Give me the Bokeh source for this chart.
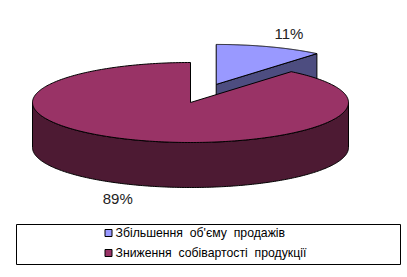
import numpy as np
from bokeh.plotting import figure
from bokeh.models import Range1d, ColumnDataSource
from bokeh.embed import file_html
from bokeh.resources import INLINE
from bokeh.core.properties import value

# ---- data ----
categories = ["Збільшення\u00a0 об'єму\u00a0 продажів", "Зниження\u00a0 собівартості\u00a0 продукції"]
values = [11, 89]
top_colors = ["#9999FF", "#993366"]
side_colors = ["#4D4D80", "#4D1A33"]

# ---- geometry / style ----
W, H = 407, 277
cx, cy = 190.0, 102.0
a, b = 158.0, 40.0
depth = 45.0
explode = [0.48, 0.0]
label_k = 1.36
FONT = value("Liberation Sans")

p = figure(width=W, height=H, x_range=Range1d(0, W), y_range=Range1d(H, 0),
           output_backend="svg", toolbar_location=None, min_border=0,
           x_axis_location=None, y_axis_location=None)
p.grid.visible = False
p.outline_line_color = None
p.background_fill_color = "white"
p.border_fill_color = "white"


def rim(ox, oy, th):
    t = np.radians(th)
    return ox + a * np.cos(t), oy - b * np.sin(t)


total = float(sum(values))
slices = []
start = 90.0
for i, v in enumerate(values):
    sweep = 360.0 * v / total
    th0, th1 = start - sweep, start
    start = th0
    mid = (th0 + th1) / 2.0
    m = np.radians(mid)
    ox = cx + explode[i] * a * np.cos(m)
    oy = cy - explode[i] * b * np.sin(m)
    slices.append(dict(i=i, th0=th0, th1=th1, mid=mid, ox=ox, oy=oy))

# back to front
order = sorted(slices, key=lambda s: -np.sin(np.radians(s["mid"])))

pxs, pys, pcol = [], [], []
for s in order:
    i, th0, th1, ox, oy = s["i"], s["th0"], s["th1"], s["ox"], s["oy"]
    # cut faces
    for phi, sign in ((th0, 1), (th1, -1)):
        c = np.cos(np.radians(phi))
        if sign * c > 1e-6:
            rx, ry = rim(ox, oy, phi)
            pxs.append([ox, float(rx), float(rx), ox])
            pys.append([oy, float(ry), float(ry) + depth, oy + depth])
            pcol.append(side_colors[i])
    # outer wall (front half)
    for k in (-1, 0, 1):
        lo = max(th0, -180 + 360 * k)
        hi = min(th1, 360 * k)
        if lo < hi:
            ts = np.linspace(lo, hi, 200)
            rx, ry = rim(ox, oy, ts)
            pxs.append(list(rx) + list(rx[::-1]))
            pys.append(list(ry) + list((ry + depth)[::-1]))
            pcol.append(side_colors[i])
    # top face
    ts = np.linspace(th0, th1, 300)
    rx, ry = rim(ox, oy, ts)
    pxs.append([ox] + list(rx))
    pys.append([oy] + list(ry))
    pcol.append(top_colors[i])

src = ColumnDataSource(dict(xs=pxs, ys=pys, c=pcol))
p.patches("xs", "ys", source=src, fill_color="c", line_color="black", line_width=1)

# percentage labels
lx, ly, lt = [], [], []
for s in slices:
    m = np.radians(s["mid"])
    lx.append(s["ox"] + label_k * a * np.cos(m))
    ly.append(s["oy"] - label_k * b * np.sin(m) + (depth if np.sin(m) < 0 else 0))
    lt.append(f"{round(100 * values[s['i']] / total)}%")
p.text(x=lx, y=ly, text=lt, text_font=FONT, text_font_size="15px",
       text_align="center", text_baseline="middle", text_color="#222222")

# legend
p.quad(left=[16], right=[400], top=[224], bottom=[264], fill_color="white",
       line_color="black", line_width=1)
ly2 = [232.5, 252.5]
p.rect(x=[108] * 2, y=ly2, width=7, height=7, fill_color=top_colors,
       line_color="black", line_width=1)
p.text(x=[115] * 2, y=ly2, text=categories, text_font=FONT, text_font_size="12.25px",
       text_align="left", text_baseline="middle", text_color="black")

open("out.html", "w").write(file_html(p, INLINE))
